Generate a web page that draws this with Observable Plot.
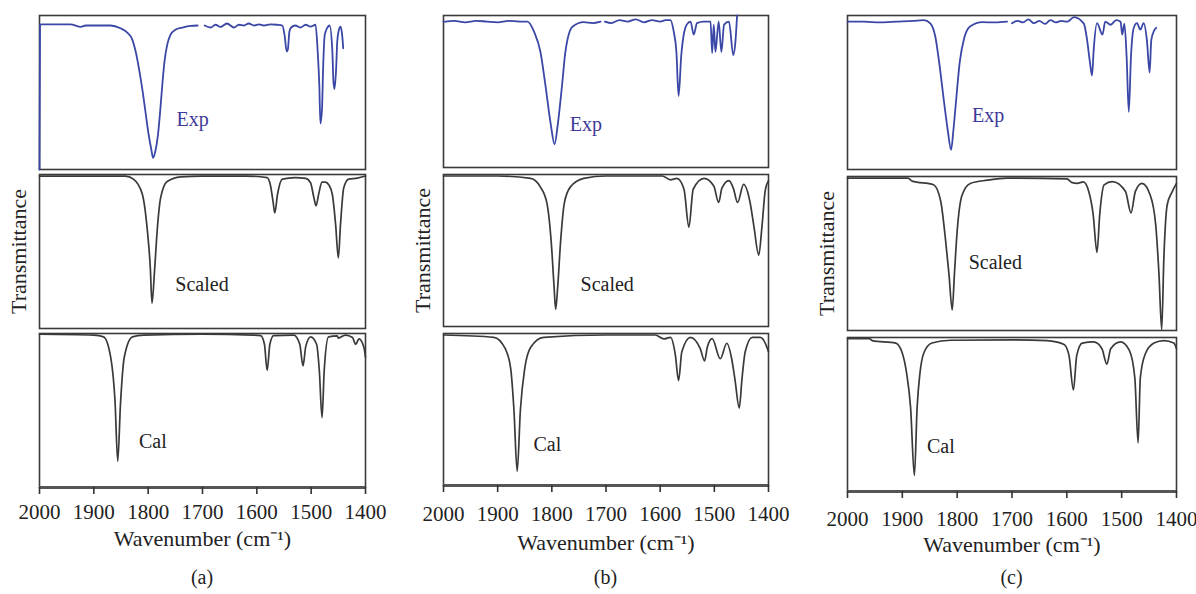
<!DOCTYPE html>
<html><head><meta charset="utf-8">
<script src="https://cdn.jsdelivr.net/npm/d3@7"></script>
<script src="https://cdn.jsdelivr.net/npm/@observablehq/plot@0.6"></script>
<style>
body{margin:0;background:#fff;}
#root{position:relative;width:1196px;height:594px;overflow:hidden;font-family:'Liberation Serif','Times New Roman',serif;}
.panel{position:absolute;top:0;}
.cap{position:absolute;top:560px;height:34px;line-height:34px;text-align:center;font-size:20px;color:#222;}
</style></head><body><div id="root"></div>
<script>
// ---------- data (wavenumber in cm-1, transmittance in % of panel height) ----------
const xTicks = [2000, 1900, 1800, 1700, 1600, 1500, 1400];
const spectra = ["Exp", "Scaled", "Cal"];
const panelNames = ["(a)", "(b)", "(c)"];

// Panel (a)
const aExpWn = [2000,1999,1997,1943,1924,1915,1869,1851,1839,1829,1823,1817,1811,1805,1799,1794,1791,1787,1782,1778,1774,1770,1765,1759,1750,1737,1722,1709,1703,1696,1685,1676,1667,1655,1642,1633,1624,1615,1605,1596,1587,1575,1563,1553,1549,1545,1543,1540,1537,1529,1520,1510,1501,1492,1488,1485,1483,1480,1478,1475,1470,1466,1461,1459,1457,1454,1452,1449,1446,1443,1441];
const aExpT  = [0,94,94.3,94.3,92.6,93.5,93.5,91.7,89.1,84.2,76.6,65.7,52.7,37.5,22.4,12.6,7.6,11.5,22.4,37.5,54.9,70.1,80.9,87.4,90.7,92.2,93.3,93.5,null,93.5,92.2,94,92.6,94.8,92.2,94,93.5,94.8,93.5,94.3,93.5,94.3,94,93.5,87.4,76.6,77.7,89.6,92.2,93.5,92.2,94,92.8,94,76.6,54.9,29.9,39.7,65.7,87.4,92.2,93.5,76.6,57.1,52.3,65.7,83.1,90.7,92.8,87.4,78.7];
const aScWn  = [2000,1900,1842,1827,1811,1802,1796,1793,1788,1783,1777,1765,1740,1700,1620,1581,1575,1570,1567,1562,1553,1530,1510,1501,1495,1491,1486,1480,1474,1467,1461,1455,1450,1446,1440,1431,1415,1400];
const aScT   = [99,99,99,97,87.5,65.5,39,16.4,39,65.5,85,95.5,98.5,99,99,98,93,82,75,87,97,98,97.5,94.5,85,79.7,87.6,95,95,93,87,67.6,45.8,67.6,91.4,97,97.6,99];
const aCalWn = [2000,1900,1882,1869,1861,1856,1851,1844,1829,1808,1700,1606,1593,1586,1581,1576,1569,1532,1521,1515,1510,1501,1490,1485,1480,1476,1468,1452,1450,1437,1424,1418,1412,1403,1400];
const aCalT  = [99.5,99,97.8,84.6,56,17,54,84.6,97.8,99,99.5,99,98.6,93,76,93,98.6,98.9,93,79,91.5,97.8,93,76,45.3,76,97.8,98.4,97,99,97.4,93,96.5,91,84.6];

// Panel (b)
const bExpWn = [2000,1996,1980,1960,1940,1920,1900,1880,1860,1845,1833,1821,1812,1802,1795,1789,1781,1775,1762,1741,1725,1710,1706,1702,1690,1675,1660,1645,1630,1615,1600,1590,1581,1575,1570,1566,1561,1556,1551,1544,1538,1532,1520,1507,1504,1501,1498,1492,1487,1482,1473,1465,1461,1458];
const bExpT  = [96,96,96.5,95.5,96.5,96,95.5,96.5,96,96,89.5,76,54.6,28.4,15.3,28.4,54.6,76,92.6,95.6,95,96,null,96,95,97,96,97.5,95.5,97,96,97,97,89.5,76,47,74,88.5,94,96,87.4,95,96,96,75.3,94,76,96,76,94,96,74,83,100];
const bScWn  = [2000,1900,1839,1821,1809,1801,1796,1793,1789,1784,1777,1766,1741,1700,1596,1581,1569,1556,1547,1539,1519,1501,1492,1486,1473,1465,1457,1446,1434,1427,1418,1412,1406,1400];
const bScT   = [99,99,97.4,91.7,81,55,27,11.3,27,55,81,91.7,97.4,99,99,96.5,97.4,90.3,65.4,90.3,97.4,92.4,81.6,91,96,91,81.6,93.5,81.6,66,47,66,89.6,95.8];
const bCalWn = [2000,1907,1886,1876,1870,1864,1858,1850,1839,1815,1700,1609,1593,1581,1572,1566,1560,1544,1526,1518,1513,1504,1489,1477,1468,1462,1454,1449,1443,1430,1415,1403,1400];
const bCalT  = [99,97.5,90,77,50,9.3,50,77,91,97.5,99,99,96.4,97.5,86,69,88,97.5,90,82,91,96.6,83.4,93.6,83.4,70,51,70,88,97.5,97.5,91,88];

// Panel (c)
const cExpWn = [2000,1998,1970,1940,1910,1880,1861,1849,1840,1832,1824,1817,1811,1807,1803,1795,1787,1776,1754,1730,1709,1705,1700,1690,1680,1670,1660,1650,1640,1630,1620,1610,1599,1587,1569,1563,1558,1554,1551,1545,1535,1530,1520,1510,1502,1499,1495,1491,1487,1483,1478,1472,1466,1460,1454,1449,1446,1441,1437];
const cExpT  = [96,96,96,95.5,96,96.5,97,94.9,86.5,67.3,44,25,12.8,25,40.6,70.5,85.5,93,95.7,95.5,96,null,95,96.5,95.5,97.5,95,96.5,94.5,97,95.5,96.5,96,99,94.7,84,70,61,77.8,95,87.6,96,94,97,96,87.6,94.7,73.5,37.4,73.5,91.9,95,90.8,95,84,63,84,90,92];
const cScWn  = [2000,1890,1882,1843,1830,1821,1815,1809,1805,1800,1791,1776,1745,1709,1600,1590,1581,1570,1560,1552,1545,1540,1532,1517,1493,1483,1475,1463,1448,1438,1432,1427,1423,1417,1408,1400];
const cScT   = [99,99,97,94.6,83.9,58,36.8,13.3,36.8,64.6,88,95.5,97.6,99,98.5,96,95.5,96.5,90.3,75.4,50.7,75.4,94.6,96.7,90.3,76.4,90.3,95.5,88,69,36.8,0.5,47.5,81.5,90,95.5];
const cCalWn = [2000,1960,1955,1912,1900,1892,1885,1878,1873,1868,1861,1846,1812,1700,1636,1605,1596,1588,1582,1572,1551,1536,1527,1520,1502,1486,1476,1470,1466,1457,1441,1423,1405,1400];
const cCalT  = [99.3,99.3,98,96.4,89.8,76.4,54.8,10.4,54.8,76.4,89.8,96.4,98.2,98.5,98,95.5,88.2,66,88.2,96.4,97.1,92.7,82.7,92.7,97.1,91.6,73.8,31.6,73.8,89.3,96.4,98,96.4,92.7];

// Spectrum label anchors (data units: wavenumber, transmittance) per panel, order Exp, Scaled, Cal
const aLabelWn = [1748, 1750, 1817], aLabelT = [32.3, 28.8, 29.5];
const bLabelWn = [1767, 1747, 1834], bLabelT = [28.4, 27.5, 27];
const cLabelWn = [1773, 1779, 1855], cLabelT = [35.3, 44.3, 29.3];

const yLabel = "Transmittance";
const xLabel = "Wavenumber (cm\u207B\u00B9)";

// ---------- layout / styles ----------
const expColor = "#3a47a6", expText = "#3d3a99", grayColor = "#3a3a3a", frameColor = "#3b3b3b";
const panels = [
  {name: panelNames[0], left: 0,   width: 400, ml: 39, mr: 35, mt: 14, mb: 73, pad: 0.034, tickPad: 9.5, labDy: 51,
   series: {Exp: [aExpWn, aExpT], Scaled: [aScWn, aScT], Cal: [aCalWn, aCalT]}, lw: aLabelWn, lt: aLabelT},
  {name: panelNames[1], left: 404, width: 400, ml: 39, mr: 36, mt: 14, mb: 74, pad: 0.045, tickPad: 13.5, labDy: 57,
   series: {Exp: [bExpWn, bExpT], Scaled: [bScWn, bScT], Cal: [bCalWn, bCalT]}, lw: bLabelWn, lt: bLabelT},
  {name: panelNames[2], left: 808, width: 388, ml: 39, mr: 20, mt: 14, mb: 69, pad: 0.045, tickPad: 12.5, labDy: 53,
   series: {Exp: [cExpWn, cExpT], Scaled: [cScWn, cScT], Cal: [cCalWn, cCalT]}, lw: cLabelWn, lt: cLabelT}
];

const root = document.getElementById("root");
for (const p of panels) {
  const rows = [];
  for (const s of spectra) {
    const [wn, t] = p.series[s];
    wn.forEach((w, i) => rows.push({spec: s, wn: w, t: t[i]}));
  }
  const labels = spectra.map((s, i) => ({spec: s, wn: p.lw[i], t: p.lt[i]}));
  const chart = Plot.plot({
    width: p.width, height: 560,
    marginLeft: p.ml, marginRight: p.mr, marginTop: p.mt, marginBottom: p.mb,
    style: {fontFamily: "'Liberation Serif','Times New Roman',serif", fontSize: "20px", color: "#222", background: "transparent", overflow: "visible"},
    x: {domain: [2000, 1400], axis: null},
    y: {domain: [0, 100], axis: null},
    fy: {domain: spectra, axis: null, paddingInner: p.pad, paddingOuter: 0},
    marks: [
      Plot.frame({stroke: frameColor, strokeWidth: 1.6}),
      Plot.ruleY([0], {fy: ["Cal"], stroke: "#555", strokeWidth: 3}),
      Plot.line(rows.filter(d => d.spec !== "Exp"), {x: "wn", y: "t", fy: "spec", stroke: grayColor, strokeWidth: 1.7, curve: "monotone-x"}),
      Plot.line(rows.filter(d => d.spec === "Exp"), {x: "wn", y: "t", fy: "spec", stroke: expColor, strokeWidth: 1.8, curve: "monotone-x"}),
      Plot.text(labels, {x: "wn", y: "t", fy: "spec", text: "spec", textAnchor: "start", lineAnchor: "middle",
        fill: d => d.spec === "Exp" ? expText : "#222", fontSize: 20}),
      Plot.text([yLabel], {fy: ["Scaled"], frameAnchor: "left", dx: -21, rotate: -90, textAnchor: "middle", lineAnchor: "middle", fontSize: 22, fill: "#222"}),
      Plot.axisX(xTicks, {tickSize: 7, tickPadding: p.tickPad, tickFormat: d => String(d), stroke: "#333", strokeWidth: 1.6, fontSize: 21, fill: "#222", label: null}),
      Plot.text([xLabel], {fy: ["Cal"], frameAnchor: "bottom", dy: p.labDy, lineAnchor: "middle", fontSize: 22, fill: "#222"})
    ]
  });
  const wrap = document.createElement("div");
  wrap.className = "panel";
  wrap.style.left = p.left + "px";
  wrap.appendChild(chart);
  root.appendChild(wrap);
  const cap = document.createElement("div");
  cap.className = "cap";
  cap.style.left = (p.left + p.ml) + "px";
  cap.style.width = (p.width - p.ml - p.mr) + "px";
  cap.textContent = p.name;
  root.appendChild(cap);
}
</script></body></html>
